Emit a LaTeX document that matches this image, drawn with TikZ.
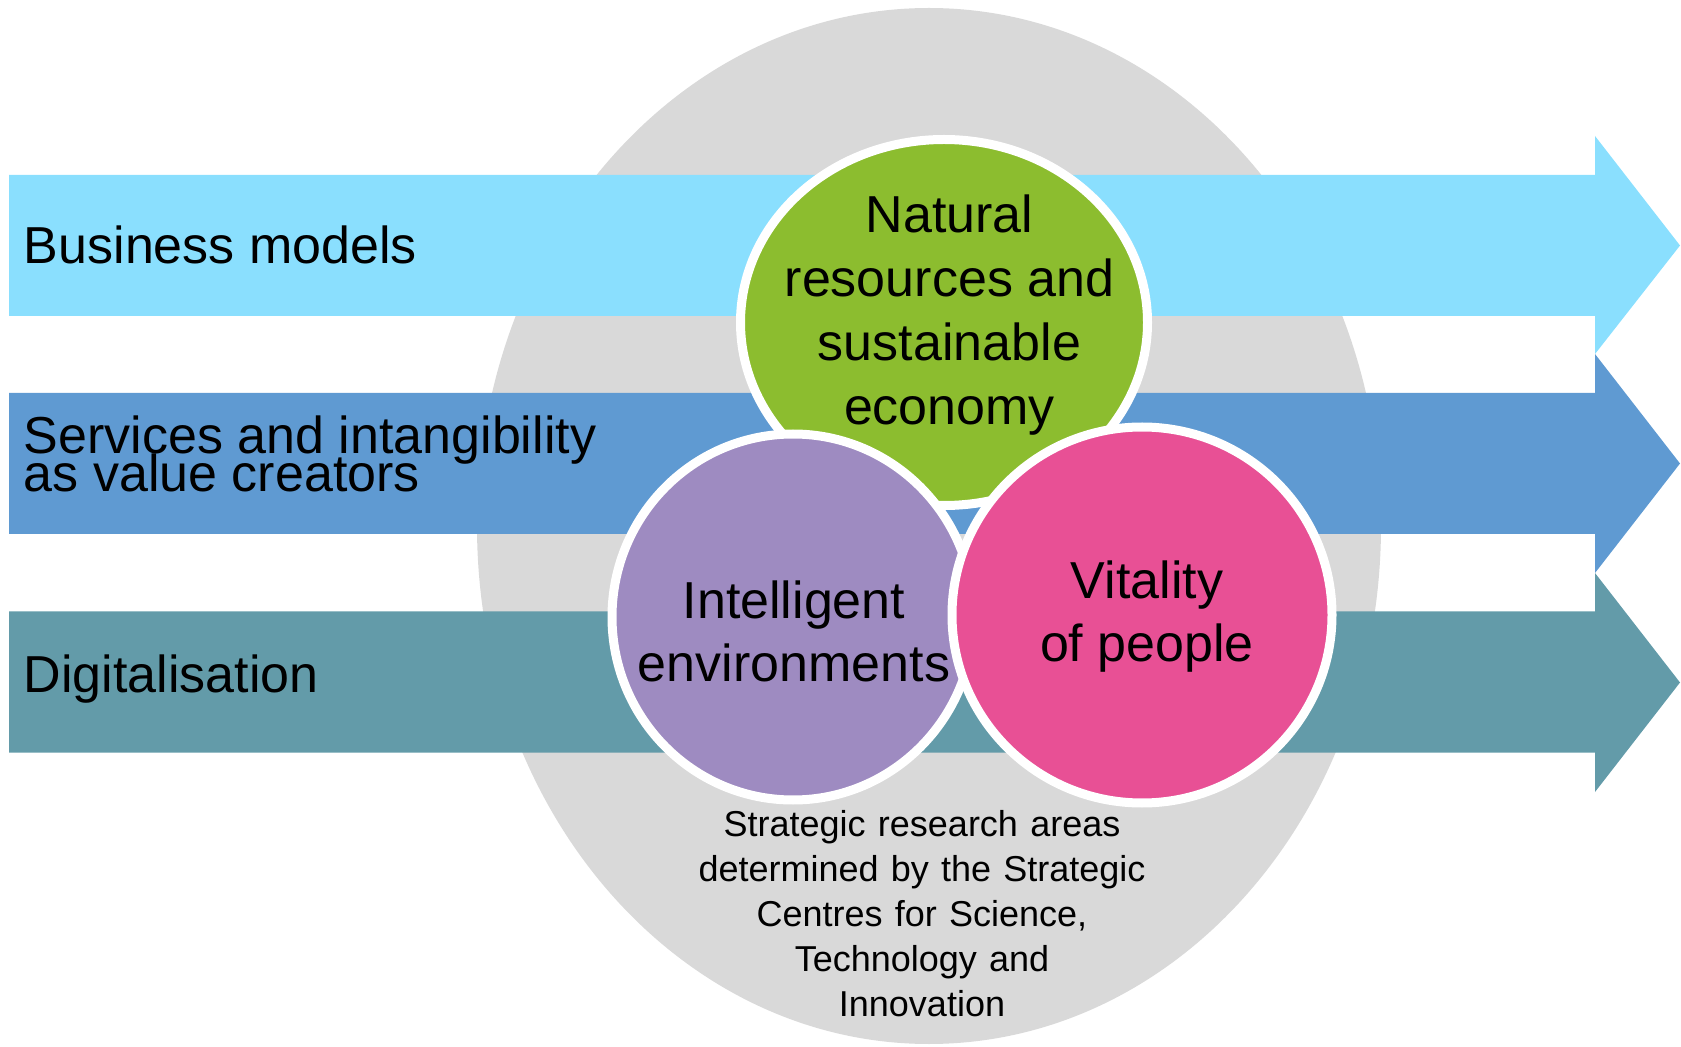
\documentclass[tikz,border=0pt]{standalone}
\usepackage{fontspec}
\setmainfont{Liberation Sans}
\newcommand\clines[2]{\vtop{\baselineskip=#1\lineskiplimit=-100pt\lineskip=0pt\halign{\hfil##\hfil\cr#2\crcr}}}
\newcommand\llines[2]{\vtop{\baselineskip=#1\lineskiplimit=-100pt\lineskip=0pt\halign{##\hfil\cr#2\crcr}}}
\newcommand\widerspace{\spaceskip=0.34em\relax}
\definecolor{arrowA}{HTML}{8ADFFE}
\definecolor{arrowB}{HTML}{5F9AD2}
\definecolor{arrowC}{HTML}{639BA9}
\definecolor{greenC}{HTML}{8CBD2F}
\definecolor{purpleC}{HTML}{9E8BC1}
\definecolor{pinkC}{HTML}{E85095}
\definecolor{greyC}{HTML}{D9D9D9}
\begin{document}
\begin{tikzpicture}[x=0.5pt,y=-0.5pt,
  bigtext/.style={inner sep=0pt,font=\fontsize{26}{32}\selectfont},
  smalltext/.style={inner sep=0pt,font=\fontsize{18}{22.5}\selectfont},
  area/.style={draw=white,line width=4.5pt}]
\useasboundingbox (0,0) rectangle (1681,1047);
% grey background ellipse
\fill[greyC] (929,526) ellipse [x radius=452, y radius=518];
% arrows
\fill[arrowA] (9,175) -- (1595,175) -- (1595,136) -- (1680,245.5) -- (1595,354) -- (1595,316) -- (9,316) -- cycle;
\fill[arrowB] (9,393) -- (1595,393) -- (1595,354) -- (1680,463.5) -- (1595,573) -- (1595,534) -- (9,534) -- cycle;
\fill[arrowC] (9,611.5) -- (1595,611.5) -- (1595,573) -- (1680,682.5) -- (1595,792) -- (1595,752.5) -- (9,752.5) -- cycle;
% labels
\node[bigtext,anchor=base west] (bm) at (23.5,263.3) {Business models};
\node[bigtext,anchor=base west] (sv) at (23.5,453.3) {\llines{19.2pt}{Services and intangibility\cr as value creators}};
\node[bigtext,anchor=base west] (dg) at (23.5,692.7) {Digitalisation};
% circles
\draw[area,fill=greenC] (944,322.5) ellipse [x radius=203.5, y radius=183];
\draw[area,fill=purpleC] (793,617) ellipse [x radius=181, y radius=183];
\draw[area,fill=pinkC] (1142,615) ellipse [x radius=190, y radius=188];
\node[bigtext,anchor=base] (nat) at (949.5,233) {\clines{32pt}{Natural\cr resources and\cr sustainable\cr economy}};
\node[bigtext,anchor=base] (int) at (794,618.3) {\clines{31.7pt}{Intelligent\cr environments}};
\node[bigtext,anchor=base] (vit) at (1147,598.3) {\clines{31.7pt}{Vitality\cr of people}};
\node[smalltext,anchor=base] (sra) at (922,836.7) {\widerspace\clines{22.5pt}{Strategic research areas\cr determined by the Strategic\cr Centres for Science,\cr Technology and\cr Innovation}};
\end{tikzpicture}
\end{document}
